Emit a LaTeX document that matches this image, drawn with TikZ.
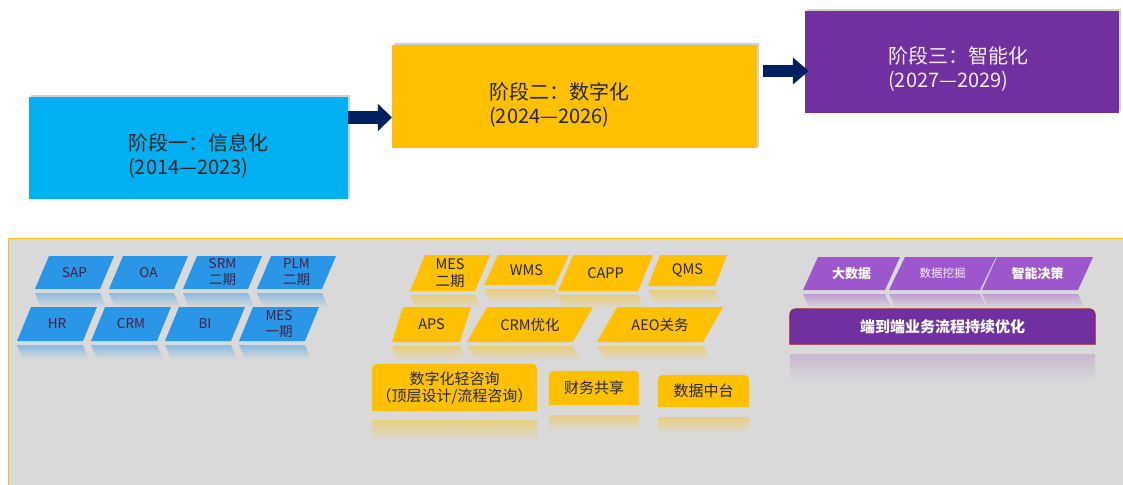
\documentclass[tikz,border=0pt]{standalone}
\usepackage{fontspec}
\setmainfont{Noto Sans CJK SC}
\usetikzlibrary{shadows,arrows.meta}
\definecolor{cblue}{HTML}{00B0F0}
\definecolor{cyel}{HTML}{FFC000}
\definecolor{cpur}{HTML}{7030A0}
\definecolor{navy}{HTML}{002060}
\definecolor{bg}{HTML}{D9D9D9}
\definecolor{pblue}{HTML}{2A96E8}
\definecolor{ppur}{HTML}{9B57CB}
\definecolor{btxt}{HTML}{4B1E3C}
\definecolor{ytxt}{HTML}{262640}
\definecolor{stxt}{HTML}{262626}
\definecolor{wtxt}{HTML}{F4EEF6}
\definecolor{darkred}{HTML}{A0142A}
\definecolor{reflpur}{HTML}{C9B8CF}
\pgfdeclarelayer{panellayer}
\pgfdeclarelayer{bgone}
\pgfsetlayers{panellayer,bgone,main}
\tikzset{
  stagebox/.style={inner sep=0pt, draw=none,
    drop shadow={shadow xshift=1.5pt, shadow yshift=1.5pt, opacity=0.18, fill=black}},
  stagetext/.style={anchor=west, align=left, inner sep=0pt,
    font=\fontsize{20}{24}\selectfont, text=stxt},
  blockarrowA/.style={navy, line width=13pt, -{Triangle[width=27pt,length=14pt]}},
  blockarrowB/.style={navy, line width=12pt, -{Triangle[width=26pt,length=16pt]}},
  btext/.style={inner sep=0pt, align=center, text=btxt, font=\fontsize{13.5}{16}\selectfont},
  ytext/.style={inner sep=0pt, align=center, text=ytxt, font=\fontsize{14.5}{17}\selectfont},
  ptext/.style={inner sep=0pt, align=center, text=white, font=\bfseries\fontsize{13}{15}\selectfont},
  ptextlight/.style={inner sep=0pt, align=center, text=white!92!ppur, font=\fontsize{11.5}{14}\selectfont},
  ybox/.style={inner sep=0pt, align=center, text=ytxt, font=\fontsize{15}{17}\selectfont},
}
% #1 name, #2 colour, #3 text style, #4 bx, #5 by (bottom), #6 width, #7 height, #8 skew, #9 text
\newcommand\pgram[9]{%
  \fill[#2] ({#4},{#5}) -- ++(#6,0) -- ++(#8,-#7) -- ++(-#6,0) -- cycle;
  \shade[top color=#2!45!bg, bottom color=bg] ({#4},{#5+4}) -- ++(#6,0) -- ++({#8*14/#7},14) -- ++(-#6,0) -- cycle;
  \node[#3] (#1) at ({#4+#6/2+#8/2},{#5-#7/2}) {#9};}
\begin{document}
\begin{tikzpicture}[x=1pt,y=-1pt]
\useasboundingbox (0,0) rectangle (1123,484);
\begin{pgfonlayer}{panellayer}
\fill[white] (0,0) rectangle (1123,484);
\end{pgfonlayer}

% stage boxes
\node[stagebox, fill=cblue, minimum width=319pt, minimum height=102pt] (s1) at (188.5,148) {};
\node[stagebox, fill=cyel, minimum width=365pt, minimum height=103pt] (s2) at (574.5,96.5) {};
\node[stagebox, fill=cpur, minimum width=314pt, minimum height=102pt] (s3) at (962,62) {};
\node[stagetext] (s1t) at (128,156) {阶段一：信息化\\(2014—2023)};
\node[stagetext] (s2t) at (489,105) {阶段二：数字化\\(2024—2026)};
\node[stagetext, text=wtxt] (s3t) at (888,69) {阶段三：智能化\\(2027—2029)};

\draw[blockarrowA] ([yshift=30.5pt]s1.east) -- ([yshift=-21pt]s2.west);
\draw[blockarrowB] ([xshift=6pt,yshift=25.5pt]s2.east) -- ([xshift=4pt,yshift=-9pt]s3.west);

% lower panel
\begin{pgfonlayer}{panellayer}
\node[fill=bg, draw=cyel, line width=1pt, minimum width=1120pt, minimum height=250pt, inner sep=0pt] (panel) at (568,363) {};
\end{pgfonlayer}

% blue parallelograms
\pgram{sap}{pblue}{btext}{35}{289}{65}{33}{14}{SAP}
\pgram{oa}{pblue}{btext}{109}{289}{65}{33}{14}{OA}
\pgram{srm}{pblue}{btext}{183}{289}{65}{33}{14}{SRM\\二期}
\pgram{plm}{pblue}{btext}{257}{289}{65}{33}{14}{PLM\\二期}
\pgram{hr}{pblue}{btext}{17}{341}{66}{34}{14}{HR}
\pgram{crm}{pblue}{btext}{91}{341}{66}{34}{14}{CRM}
\pgram{bi}{pblue}{btext}{165}{341}{66}{34}{14}{BI}
\pgram{mesone}{pblue}{btext}{239}{341}{66}{34}{14}{MES\\一期}

% yellow parallelograms
\pgram{mestwo}{cyel}{ytext}{410}{291}{65}{36}{15}{MES\\二期}
\pgram{wms}{cyel}{ytext}{484}{285}{71}{30}{14}{WMS}
\pgram{capp}{cyel}{ytext}{558}{291}{80}{36}{15}{CAPP}
\pgram{qms}{cyel}{ytext}{648}{286}{67}{31}{12}{QMS}
\pgram{aps}{cyel}{ytext}{392}{342}{68}{35}{11}{APS}
\pgram{crmopt}{cyel}{ytext}{467}{342}{106}{35}{20}{CRM优化}
\pgram{aeo}{cyel}{ytext}{597}{342}{106}{35}{20}{AEO关务}

% purple parallelograms
\pgram{dsj}{ppur}{ptext}{803}{290}{82}{33}{15}{大数据}
\pgram{sjwj}{ppur}{ptextlight}{889}{290}{91}{33}{16}{数据挖掘}
\pgram{znjc}{ppur}{ptext}{982}{290}{96}{33}{15}{智能决策}

% yellow boxes (rounded top)
\node[ybox, minimum width=165pt, minimum height=47pt] (b1) at (454.5,387.5) {数字化轻咨询\\（顶层设计/流程咨询）};
\node[ybox, minimum width=90pt, minimum height=34pt] (b2) at (594,388) {财务共享};
\node[ybox, minimum width=91pt, minimum height=32pt] (b3) at (703.5,391) {数据中台};
\node[inner sep=0pt, minimum width=305pt, minimum height=35pt, text=white,
      font=\bfseries\fontsize{15}{17}\selectfont] (bar) at (942.5,326.5) {端到端业务流程持续优化};

\begin{pgfonlayer}{bgone}
\foreach \n in {b1,b2,b3}{
  \fill[cyel] (\n.south west) -- ([yshift=-5pt]\n.north west) arc[start angle=180,end angle=90,radius=5pt]
    -- ([xshift=-5pt]\n.north east) arc[start angle=90,end angle=0,radius=5pt] -- (\n.south east) -- cycle;
}
\fill[cpur, draw=darkred, line width=0.8pt] (bar.south west) -- ([yshift=-6pt]bar.north west) arc[start angle=180,end angle=90,radius=6pt]
    -- ([xshift=-6pt]bar.north east) arc[start angle=90,end angle=0,radius=6pt] -- (bar.south east) -- cycle;
\end{pgfonlayer}

% reflections of boxes
\shade[top color=cyel!40!bg, bottom color=bg] ([yshift=-9pt]b1.south west) rectangle ([yshift=-30pt]b1.south east);
\shade[top color=cyel!40!bg, bottom color=bg] ([yshift=-10pt]b2.south west) rectangle ([yshift=-26pt]b2.south east);
\shade[top color=cyel!40!bg, bottom color=bg] ([yshift=-10pt]b3.south west) rectangle ([yshift=-26pt]b3.south east);
\shade[top color=reflpur, bottom color=bg] ([yshift=-10pt]bar.south west) rectangle ([yshift=-38pt]bar.south east);
\end{tikzpicture}
\end{document}
